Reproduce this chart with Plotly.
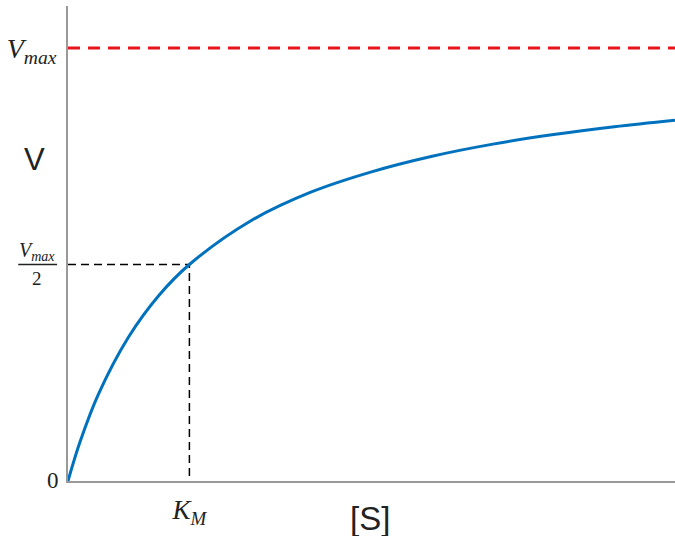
import plotly.graph_objects as go

# Data (S in units of K_M, V in units of Vmax)
s_vals = [0, 0.1, 0.25, 0.5, 0.75, 1.0, 1.5, 2.0, 2.5, 3.0, 3.5, 4.0, 4.5, 5.0]
v_vals = [0, 0.091, 0.2, 0.333, 0.429, 0.5, 0.6, 0.667, 0.714, 0.75, 0.778, 0.8, 0.818, 0.833]
vmax = 1.0
km = 1.0
x_max = 5.0
y_max = 1.097

serif = "Liberation Serif"
sans = "Liberation Sans"

fig = go.Figure()
# Vmax dashed red line
fig.add_trace(go.Scatter(x=[0, x_max], y=[vmax, vmax], mode="lines",
                         line=dict(color="#e8141a", width=3, dash="12px,8px"),
                         hoverinfo="skip", showlegend=False))
# K_M guide lines
fig.add_trace(go.Scatter(x=[0, km, km], y=[vmax / 2, vmax / 2, 0], mode="lines",
                         line=dict(color="black", width=1.5, dash="8px,5px"),
                         hoverinfo="skip", showlegend=False))
# Michaelis-Menten curve
fig.add_trace(go.Scatter(x=s_vals, y=v_vals, mode="lines", line_shape="spline",
                         line=dict(color="#0072bd", width=3),
                         showlegend=False))

fig.update_layout(
    width=675, height=536,
    margin=dict(l=68, r=0, t=6, b=55),
    paper_bgcolor="white", plot_bgcolor="white",
    xaxis=dict(range=[0, x_max], showgrid=False, zeroline=False,
               showline=True, linecolor="#999999", linewidth=2,
               tickvals=[km], ticktext=["<i>K</i><sub><i>M</i></sub>"],
               ticks="", ticklabelstandoff=4,
               tickfont=dict(family=serif, size=27, color="#222")),
    yaxis=dict(range=[0, y_max], showgrid=False, zeroline=False,
               showline=True, linecolor="#999999", linewidth=2,
               tickvals=[vmax],
               ticktext=["<i>V</i><sub><i>max</i></sub>"],
               ticks="", ticklabelstandoff=4,
               tickfont=dict(family=serif, size=28, color="#222")),
    annotations=[
        dict(text="0", x=0, y=0, xref="paper", yref="y",
             xanchor="right", yanchor="middle", xshift=-7, yshift=1, showarrow=False,
             font=dict(family=serif, size=23, color="#222")),
        dict(text="<i>V</i><sub><i>max</i></sub>", x=0, y=vmax / 2, xref="paper", yref="y",
             xanchor="center", yanchor="bottom", xshift=-31, yshift=-1, showarrow=False,
             font=dict(family=serif, size=20, color="#222")),
        dict(text="2", x=0, y=vmax / 2, xref="paper", yref="y",
             xanchor="center", yanchor="top", xshift=-31, yshift=-1, showarrow=False,
             font=dict(family=serif, size=19, color="#222")),
        dict(text="V", x=-0.056, y=0.676, xref="paper", yref="paper",
             xanchor="center", yanchor="middle", showarrow=False,
             font=dict(family=sans, size=31, color="#222")),
        dict(text="[S]", x=0.498, y=-0.078, xref="paper", yref="paper",
             xanchor="center", yanchor="middle", showarrow=False,
             font=dict(family=sans, size=33, color="#222")),
    ],
    shapes=[dict(type="line", xref="paper", yref="y", x0=-0.082, x1=-0.018,
                 y0=vmax / 2, y1=vmax / 2, line=dict(color="#222", width=1.3))],
)

fig.write_html("out.html")
